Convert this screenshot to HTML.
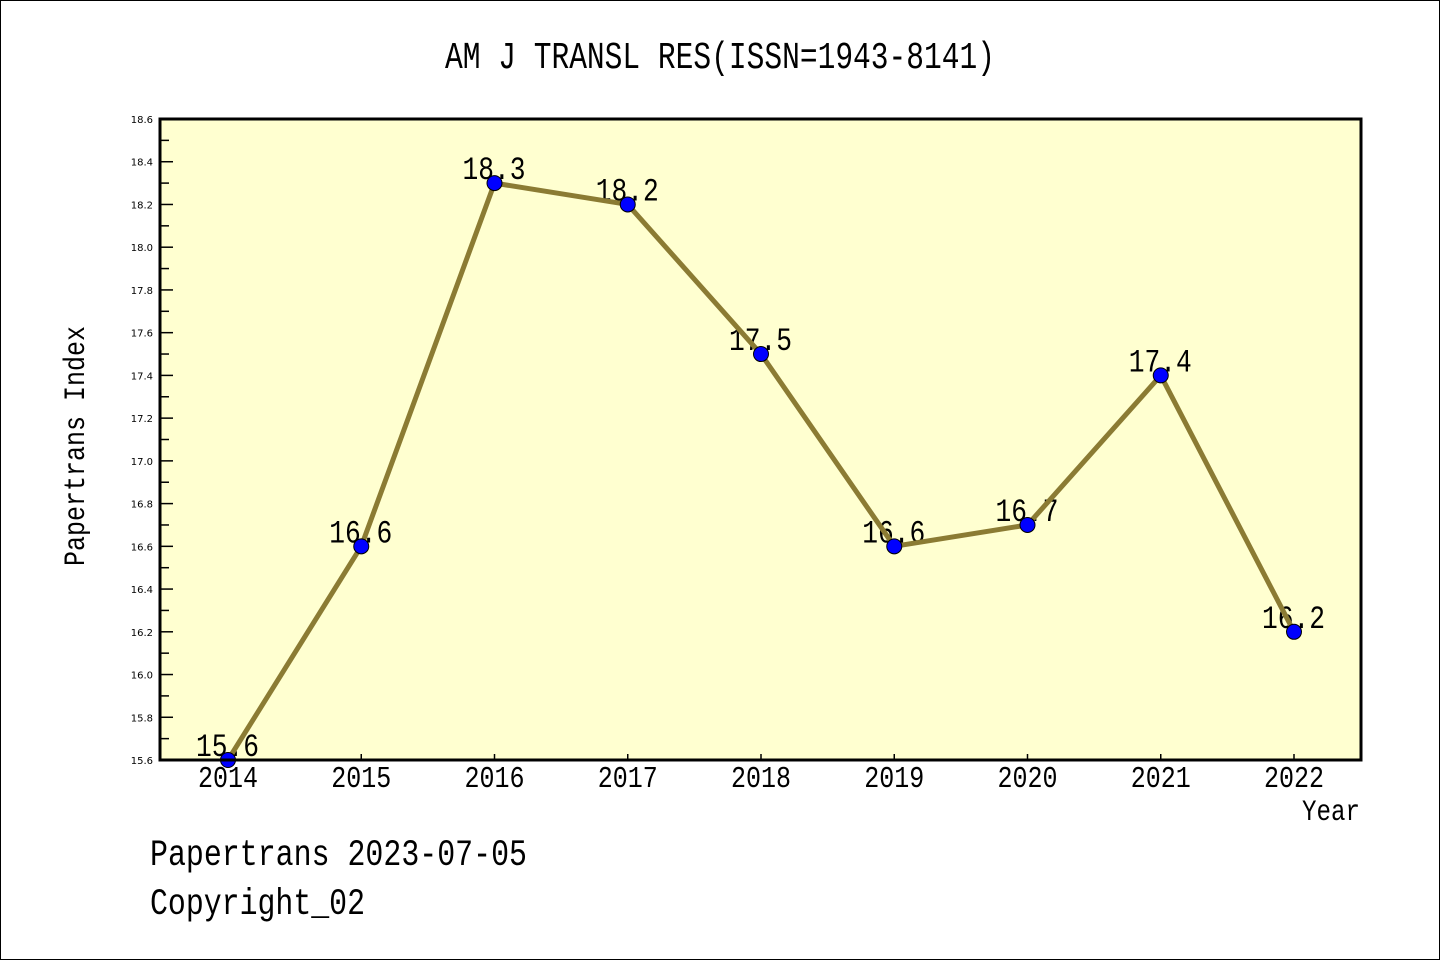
<!DOCTYPE html>
<html><head><meta charset="utf-8"><style>
body{margin:0;background:#fff}
svg{display:block}
text{font-family:"Liberation Mono","WenQuanYi Zen Hei",monospace;fill:#000}
</style></head><body>
<svg width="1440" height="960">
<rect x="0.5" y="0.5" width="1439" height="959" fill="#fff" stroke="#000"/>
<text x="445" y="68" font-size="38" textLength="550" lengthAdjust="spacingAndGlyphs">AM J TRANSL RES(ISSN=1943-8141)</text>
<rect x="160" y="119" width="1201" height="641" fill="#ffffd0"/>
<g id="ticks"></g>
<g id="labels"></g>
<polyline id="line" fill="none" stroke="#8b7b33" stroke-width="5" stroke-linejoin="round"/>
<g id="marks"></g>
<rect x="160" y="119" width="1201" height="641" fill="none" stroke="#000" stroke-width="3"/>
<text x="84" y="446" font-size="30" text-anchor="middle" textLength="240" lengthAdjust="spacingAndGlyphs" transform="rotate(-90 84 446)">Papertrans Index</text>
<text x="1302" y="820" font-size="30" textLength="58" lengthAdjust="spacingAndGlyphs">Year</text>
<text x="150" y="865" font-size="37" textLength="377" lengthAdjust="spacingAndGlyphs">Papertrans 2023-07-05</text>
<text x="150" y="914" font-size="37" textLength="215" lengthAdjust="spacingAndGlyphs">Copyright_02</text>
</svg>
<script>
const years=["2014","2015","2016","2017","2018","2019","2020","2021","2022"];
const values=[15.6,16.6,18.3,18.2,17.5,16.6,16.7,17.4,16.2];
const yTicks=[15.6,15.8,16.0,16.2,16.4,16.6,16.8,17.0,17.2,17.4,17.6,17.8,18.0,18.2,18.4,18.6];
const NS="http://www.w3.org/2000/svg";
const yMin=15.6,yMax=18.6,plotTop=119,plotBot=760;
const y=v=>plotBot-(v-yMin)/(yMax-yMin)*(plotBot-plotTop);
const x=i=>228+i*(1294-228)/(years.length-1);
function mk(tag,at,p){const e=document.createElementNS(NS,tag);for(const k in at)e.setAttribute(k,at[k]);document.getElementById(p).appendChild(e);return e;}
yTicks.forEach((t,i)=>{
  const l=mk('line',{x1:160,x2:173,y1:y(t),y2:y(t),stroke:'#000','stroke-width':1.5},'ticks');
  
  
  if(i<yTicks.length-1){const m=mk('line',{x1:160,x2:169,y1:y(t+0.1),y2:y(t+0.1),stroke:'#000','stroke-width':1.5},'ticks');
  
  }
  const tx=mk('text',{x:153,y:y(t)+4,'font-size':10,'text-anchor':'end','style':'font-family:"DejaVu Sans",sans-serif'},'ticks');
  tx.textContent=t.toFixed(1);
  
  
});
const pts=[];
years.forEach((yr,i)=>{
  const xx=x(i),yy=y(values[i]);pts.push(xx+','+yy);
  const t=mk('line',{x1:xx,x2:xx,y1:plotBot,y2:plotBot-6,stroke:'#000','stroke-width':1.5},'ticks');
  
  
  const l=mk('text',{x:xx-30,y:plotBot+27,'font-size':31,textLength:60,lengthAdjust:'spacingAndGlyphs'},'labels');
  l.textContent=yr;
  
  
  const v=mk('text',{x:xx-32,y:yy-4,'font-size':32,textLength:63,lengthAdjust:'spacingAndGlyphs'},'labels');
  v.textContent=values[i].toFixed(1);
  
  
  const c=mk('circle',{cx:xx,cy:yy,r:7.5,fill:'#0000ff',stroke:'#000','stroke-width':1},'marks');
  
  
});
document.getElementById('line').setAttribute('points',pts.join(' '));
</script>
</body></html>
